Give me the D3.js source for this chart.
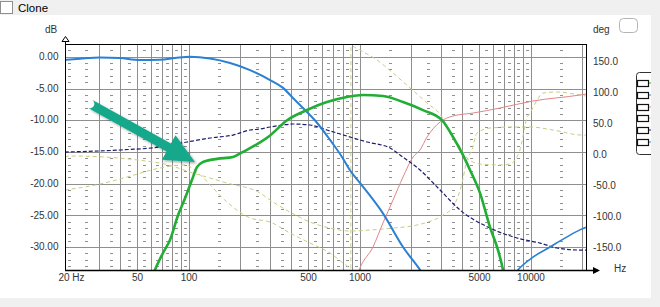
<!DOCTYPE html>
<html><head><meta charset="utf-8">
<script src="https://cdn.jsdelivr.net/npm/d3@7"></script>
<style>
html,body{margin:0;padding:0;background:#f0f0f0;}
svg{display:block;}
</style></head><body>
<svg id="c" width="660" height="307"></svg>
<script>
// ---------- data ----------
const xTicks = [20, 50, 100, 500, 1000, 5000, 10000];
const xTickLabels = ["20 Hz", "50", "100", "500", "1000", "5000", "10000"];
const dbTicks = [0, -5, -10, -15, -20, -25, -30];
const degTicks = [150, 100, 50, 0, -50, -100, -150];
const majorHz = [30,40,50,60,70,80,90,100,200,300,400,500,600,700,800,900,1000,2000,3000,4000,5000,6000,7000,8000,9000,10000,20000];
const minorHz = [20,25,35,45,55,65,75,85,95,150,250,350,450,550,650,750,850,950,1500,2500,3500,4500,5500,6500,7500,8500,9500,15000];

// magnitude curves [Hz, dB]
const blueLow = [[18.9,-0.5],[23.2,-0.3],[30.4,-0.1],[39.7,-0.2],[52,-0.5],[68,-0.45],[83.4,-0.2],[102,0],[133.5,-0.27],[175,-0.98],[229,-2.1],[300,-3.66],[357,-4.9],[408,-6.5],[480,-8.4],[564,-10.4],[672,-13.1],[790,-15.8],[879,-17.9],[1006,-19.9],[1371,-24.7],[1796,-30.0],[2258,-33.6],[2600,-36]];
const blueHigh = [[7580,-35.2],[8452,-33.6],[10340,-31.6],[13000,-30.0],[16340,-28.4],[19460,-27.3],[21100,-26.9]];
const green = [[60,-35.5],[63.7,-33.6],[70.9,-30.95],[77.9,-28.9],[86.8,-25.0],[95.4,-22.3],[104.8,-19.4],[112,-17.4],[121.5,-16.6],[147,-16.1],[182,-15.8],[208,-15.0],[262,-13.5],[300,-12.4],[377,-10.0],[493,-8.4],[645,-7.13],[845,-6.34],[1047,-6.03],[1371,-6.18],[1796,-7.13],[2350,-8.4],[3036,-10.0],[3522,-12.65],[3975,-15.2],[4426,-17.85],[5066,-21.5],[5794,-26.85],[6456,-30.5],[6900,-33.6],[7100,-35.5]];

// phase curves [Hz, deg]
const navy = [[18.9,4.3],[39.7,7.6],[68,12.4],[98,20.5],[133.5,26.9],[182,31.7],[229,39.8],[262,41.4],[300,44.7],[357,47.9],[408,49.5],[513,47.9],[645,39.8],[845,30.1],[1106,20.5],[1508,10.8],[1724,-0.5],[2258,-24.7],[2958,-57],[3868,-89.2],[5794,-118.3],[8340,-134.4],[11360,-142.5],[14290,-150.5],[19460,-153.8],[21100,-153.8]];
const red = [[980,-191],[1006,-182.8],[1198,-148.9],[1371,-110.2],[1570,-73.1],[1796,-36],[2056,-3.7],[2258,7.6],[2482,28.5],[2958,52.7],[3522,62.4],[4610,67.2],[6620,75.3],[10340,86.6],[19460,96.3],[21100,97.9]];
const yellowA = [[18.9,-3.7],[20.3,-2.1],[68,-13.4],[106,-29.5],[168,-45.7],[262,-61.8],[300,-73.1],[392,-92.5],[513,-108.6],[672,-118.3],[879,-123.1],[1151,-121.5],[1570,-118.3],[2168,-113.4],[3077,-97.3],[3522,-84.4],[3975,-45.7],[4252,-8.6],[4548,7.6],[4866,35],[5794,43],[7900,44.7],[9930,44.7],[13530,39.8],[20000,31.7],[21100,31.7]];
const yellowB = [[18.9,-57],[30.4,-47.3],[43.7,-36],[68,-21.5],[95.4,-16.6],[117,-32.8],[163,-73.1],[229,-102.1],[300,-108.6],[392,-126.3],[513,-142.5],[672,-158.6],[800,-174.7],[856,-181.2],[889,-190],[891,182],[904,176.9],[1006,168.9],[1265,152.7],[1570,131.7],[1974,107.6],[2482,83.4],[3036,60.8],[3384,35],[3868,12.4],[4252,-5.3],[5066,-15],[6620,-16.6],[7580,-15],[8672,7.6],[9528,59.2],[9930,67.2],[10920,88.2],[11830,99.5],[14290,101.1],[19460,96.3],[21100,94.7]];

// annotation arrow [Hz, dB]
const arrowTail = [26.5, -7.4];
const arrowTip = [109, -16.6];

// legend widget swatch colours
const widgetColors = ["#22ad34","#2a80d4","#e08686","#c9cc82","#1d1d6e","#2a80d4"];

// ---------- drawing ----------
const svg = d3.select("#c");
const FONT = "'Liberation Sans', Arial, sans-serif";
svg.append("rect").attr("width",660).attr("height",307).attr("fill","#f0f0f0");
svg.append("rect").attr("x",0).attr("y",15).attr("width",651).attr("height",283).attr("fill","#ffffff");

// top checkbox
svg.append("rect").attr("x",0.5).attr("y",1.5).attr("width",12).attr("height",12)
  .attr("fill","#fff").attr("stroke","#8e8f8f");
svg.append("text").attr("x",18).attr("y",12).attr("font-family",FONT).attr("font-size",11.5)
  .attr("fill","#000").text("Clone");

const P = {l:65, r:586, t:44, b:270};
const x = d3.scaleLog().domain([20,20000]).range([69,582]);
const y = d3.scaleLinear().domain([0,-30]).range([56.8,247]);
const yDeg = d3.scaleLinear().domain([150,-150]).range([61.7,247.7]);

const defs = svg.append("defs");
defs.append("clipPath").attr("id","clip").append("rect")
  .attr("x",P.l).attr("y",P.t).attr("width",P.r-P.l).attr("height",P.b-P.t);
const f = defs.append("filter").attr("id","sh").attr("x","-20%").attr("y","-20%").attr("width","140%").attr("height","140%");
f.append("feDropShadow").attr("dx",1.5).attr("dy",1.5).attr("stdDeviation",1.2).attr("flood-color","#000").attr("flood-opacity",0.35);

const grid = svg.append("g");
const cx = v => Math.round(v) + 0.5;
// minor dash grid
const dashDb = d3.range(1, -34, -1).filter(d => d % 5 !== 0);
minorHz.forEach(hz => {
  dashDb.forEach(d => {
    grid.append("rect").attr("x", Math.round(x(hz)) - 1).attr("y", Math.round(y(d)))
      .attr("width",3).attr("height",1).attr("fill","#909090");
  });
});
// major verticals
grid.selectAll("line.v").data(majorHz).join("line")
  .attr("x1", d=>cx(x(d))).attr("x2", d=>cx(x(d))).attr("y1",P.t).attr("y2",P.b)
  .attr("stroke","#8f8f8f").attr("stroke-width",1);
// major horizontals
grid.selectAll("line.h").data(dbTicks).join("line")
  .attr("x1",P.l).attr("x2",P.r).attr("y1", d=>cx(y(d))).attr("y2", d=>cx(y(d)))
  .attr("stroke","#8f8f8f").attr("stroke-width",1);

const plot = svg.append("g").attr("clip-path","url(#clip)");
const lineDb = d3.line().x(d=>x(d[0])).y(d=>y(d[1])).curve(d3.curveMonotoneX);
const lineDeg = d3.line().x(d=>x(d[0])).y(d=>yDeg(d[1])).curve(d3.curveMonotoneX);

plot.append("path").attr("d", lineDeg(yellowA)).attr("fill","none").attr("stroke","#c9cc82").attr("stroke-width",1).attr("stroke-dasharray","4,3");
plot.append("path").attr("d", lineDeg(yellowB)).attr("fill","none").attr("stroke","#c9cc82").attr("stroke-width",1).attr("stroke-dasharray","4,3");
plot.append("path").attr("d", lineDeg(red)).attr("fill","none").attr("stroke","#e08686").attr("stroke-width",1);
plot.append("path").attr("d", lineDeg(navy)).attr("fill","none").attr("stroke","#1d1d6e").attr("stroke-width",1.2).attr("stroke-dasharray","4,2");
plot.append("path").attr("d", lineDb(blueLow)).attr("fill","none").attr("stroke","#2a80d4").attr("stroke-width",2);
plot.append("path").attr("d", lineDb(blueHigh)).attr("fill","none").attr("stroke","#2a80d4").attr("stroke-width",1.6);
plot.append("path").attr("d", lineDb(green)).attr("fill","none").attr("stroke","#22ad34").attr("stroke-width",2.6);

// axes lines
const ax = svg.append("g").attr("stroke","#000").attr("fill","none");
ax.append("line").attr("x1",P.l+0.5).attr("x2",P.l+0.5).attr("y1",37).attr("y2",P.b+0.5);
ax.append("line").attr("x1",P.l).attr("x2",P.r+0.5).attr("y1",P.t+0.5).attr("y2",P.t+0.5);
ax.append("line").attr("x1",P.r+0.5).attr("x2",P.r+0.5).attr("y1",P.t).attr("y2",P.b+0.5);
ax.append("line").attr("x1",P.l).attr("x2",598).attr("y1",P.b+0.5).attr("y2",P.b+0.5).attr("stroke-width",1.5);
ax.append("path").attr("d",`M${P.l-3},41.5 L${P.l+0.5},36.5 L${P.l+4},41.5 Z`).attr("fill","#fff");
svg.append("path").attr("d",`M593,267 L600,270.5 L593,274 Z`).attr("fill","#000");

function styleAxis(g){
  g.select(".domain").remove();
  g.selectAll("text").attr("fill","#333").attr("font-family",FONT).attr("font-size",10);
}
svg.append("g").attr("transform","translate(58.5,-0.5)")
  .call(d3.axisLeft(y).tickValues(dbTicks).tickFormat(d=>d.toFixed(2)).tickSize(0).tickPadding(0))
  .call(styleAxis);
svg.append("g").attr("transform","translate(593,0)")
  .call(d3.axisRight(yDeg).tickValues(degTicks).tickFormat(d=>d.toFixed(1)).tickSize(0).tickPadding(0))
  .call(styleAxis);
svg.append("g").attr("transform","translate(0,274)")
  .call(d3.axisBottom(x).tickValues(xTicks).tickFormat((d,i)=>xTickLabels[i]).tickSize(0).tickPadding(0))
  .call(styleAxis)
  .selectAll("text").attr("dx", (d,i)=> i===0 ? 2 : 0);

svg.append("text").attr("x",51).attr("y",33).attr("text-anchor","middle").attr("font-family",FONT).attr("font-size",10).attr("fill","#333").text("dB");
svg.append("text").attr("x",593).attr("y",33).attr("font-family",FONT).attr("font-size",10).attr("fill","#333").text("deg");
svg.append("text").attr("x",614).attr("y",272).attr("font-family",FONT).attr("font-size",10).attr("fill","#333").text("Hz");

// top-right button
svg.append("rect").attr("x",619.5).attr("y",18.5).attr("width",18).attr("height",14).attr("rx",4)
  .attr("fill","#fff").attr("stroke","#b5b5b5");

// right widget (cut by the window edge)
const wg = svg.append("g");
wg.append("rect").attr("x",636.5).attr("y",72.5).attr("width",18).attr("height",82).attr("rx",3)
  .attr("fill","#fff").attr("stroke","#333");
widgetColors.forEach((c,i)=>{
  const yy = Math.round(80 + i*11.8) + 0.5;
  wg.append("rect").attr("x",637.5).attr("y",yy).attr("width",11).attr("height",6).attr("fill","#fff").attr("stroke","#111").attr("stroke-width",1.2);
  wg.append("line").attr("x1",649).attr("x2",652).attr("y1",yy+2.5).attr("y2",yy+2.5).attr("stroke",c).attr("stroke-width",1);
});
svg.append("rect").attr("x",651).attr("y",0).attr("width",9).attr("height",307).attr("fill","#f0f0f0");

// annotation arrow
const t0 = [x(arrowTail[0]), y(arrowTail[1])];
const t1 = [x(arrowTip[0]), y(arrowTip[1])];
const dx = t1[0]-t0[0], dy = t1[1]-t0[1], L = Math.hypot(dx,dy);
const ux = dx/L, uy = dy/L, nx = -uy, ny = ux;
const headL = 30, headW = 14, shaftW = 4.5;
const hb = [t1[0]-ux*headL, t1[1]-uy*headL];
const pts = [
  [t0[0]+nx*shaftW, t0[1]+ny*shaftW],
  [hb[0]+nx*shaftW, hb[1]+ny*shaftW],
  [hb[0]+nx*headW, hb[1]+ny*headW],
  t1,
  [hb[0]-nx*headW, hb[1]-ny*headW],
  [hb[0]-nx*shaftW, hb[1]-ny*shaftW],
  [t0[0]-nx*shaftW, t0[1]-ny*shaftW]
];
const ag = svg.append("g").attr("filter","url(#sh)");
ag.append("path").attr("d","M"+pts.map(p=>p.join(",")).join("L")+
  `A${shaftW},${shaftW} 0 0 1 ${pts[0][0]},${pts[0][1]}Z`).attr("fill","#17a88b");
</script>
</body></html>
